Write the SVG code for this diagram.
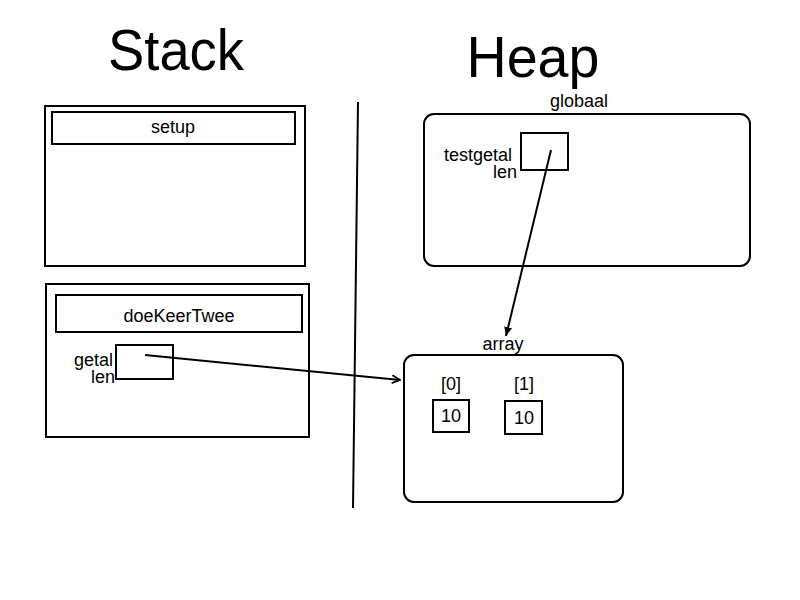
<svg xmlns="http://www.w3.org/2000/svg" width="800" height="600" viewBox="0 0 800 600">
<style>
text{font-family:"Liberation Sans","Open Sans",sans-serif;fill:#000}
.t{font-size:18px}
.big{font-size:58px}
.box{fill:#fff;stroke:#000;stroke-width:2}
.line{stroke:#000;stroke-width:2;fill:none}
</style>
<defs>
<marker id="ah" markerWidth="10" markerHeight="10" refX="9" refY="5" orient="auto" markerUnits="userSpaceOnUse">
<path d="M1,1 L9,5 L1,9" fill="none" stroke="#000" stroke-width="1.8"/>
</marker>
<marker id="ahf" markerWidth="10" markerHeight="10" refX="9" refY="5" orient="auto" markerUnits="userSpaceOnUse">
<path d="M0,1 L9,5 L0,9 Z" fill="#000"/>
</marker>
</defs>
<rect width="800" height="600" fill="#fff"/>
<text class="big" x="176" y="70" text-anchor="middle" textLength="136" lengthAdjust="spacingAndGlyphs">Stack</text>
<text class="big" x="533" y="77" text-anchor="middle" textLength="133" lengthAdjust="spacingAndGlyphs">Heap</text>
<line class="line" x1="358" y1="102" x2="353" y2="508"/>
<g id="setup">
<rect class="box" x="45" y="106" width="260" height="160"/>
<rect class="box" x="52" y="112" width="243" height="32"/>
<text class="t" x="173" y="133" text-anchor="middle">setup</text>
</g>
<g id="doeKeerTwee">
<rect class="box" x="46" y="284" width="263" height="153"/>
<rect class="box" x="56" y="295" width="246" height="37"/>
<text class="t" x="179" y="322" text-anchor="middle">doeKeerTwee</text>
<rect class="box" x="116" y="345" width="57" height="34"/>
<text class="t" x="113" y="366" text-anchor="end">getal</text>
<text class="t" x="115" y="383" text-anchor="end">len</text>
</g>
<g id="globaal">
<rect class="box" x="424" y="114" width="326" height="152" rx="10"/>
<text class="t" x="579" y="107" text-anchor="middle">globaal</text>
<rect class="box" x="521" y="133" width="47" height="37"/>
<text class="t" x="512" y="161" text-anchor="end">testgetal</text>
<text class="t" x="517" y="178" text-anchor="end">len</text>
</g>
<g id="array">
<rect class="box" x="404" y="355" width="219" height="147" rx="10"/>
<text class="t" x="503" y="350" text-anchor="middle">array</text>
<text class="t" x="451" y="390" text-anchor="middle">[0]</text>
<rect class="box" x="433" y="400" width="36" height="32"/>
<text class="t" x="451" y="422" text-anchor="middle">10</text>
<text class="t" x="524" y="390" text-anchor="middle">[1]</text>
<rect class="box" x="505" y="401" width="37" height="33"/>
<text class="t" x="524" y="424" text-anchor="middle">10</text>
</g>
<g id="connectors">
<line class="line" x1="145" y1="355" x2="400" y2="380" marker-end="url(#ah)"/>
<line class="line" x1="551" y1="150" x2="506" y2="336" marker-end="url(#ahf)"/>
</g>
</svg>
